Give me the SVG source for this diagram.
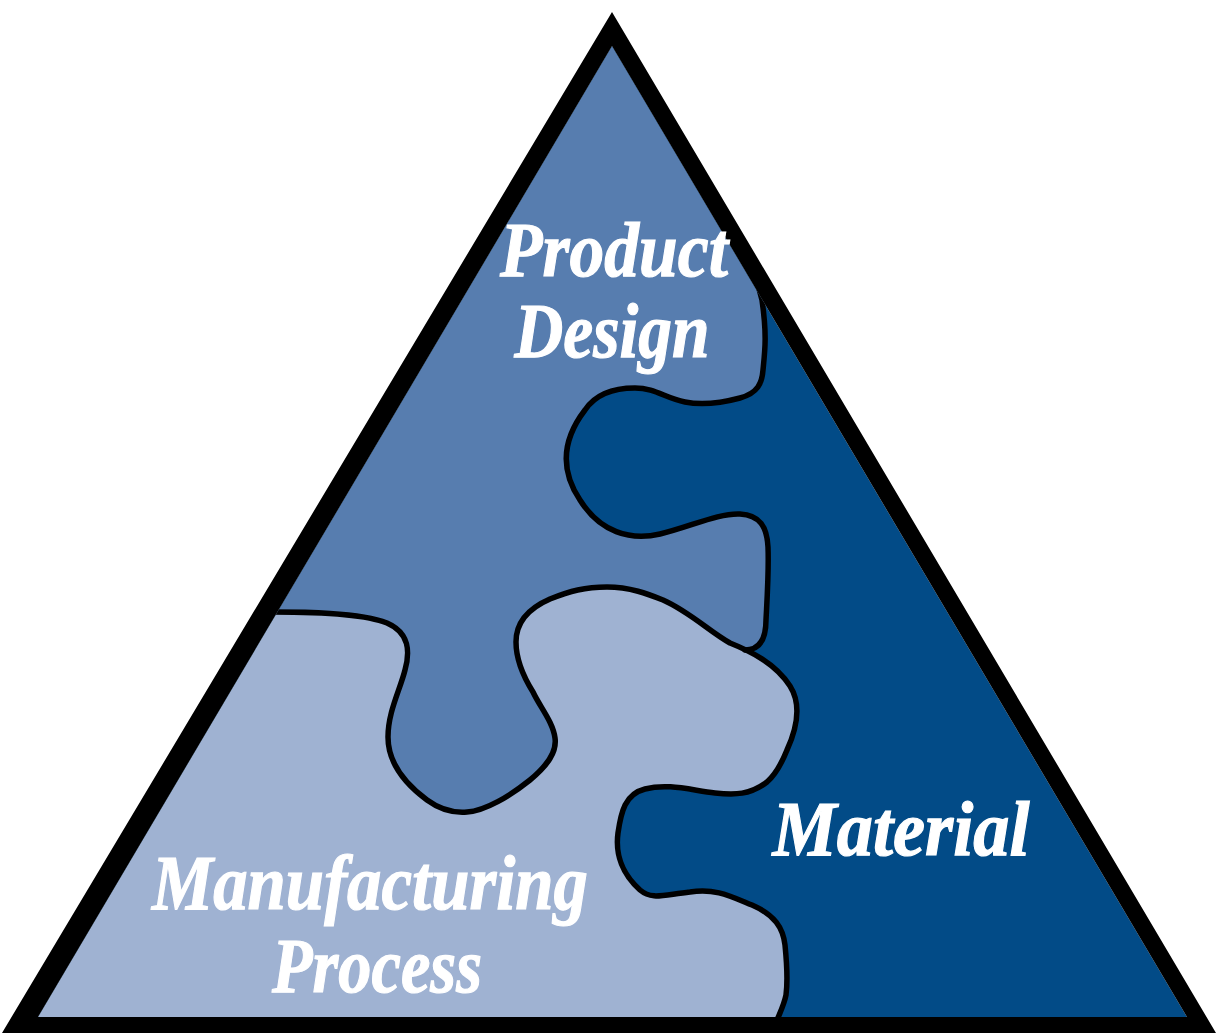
<svg xmlns="http://www.w3.org/2000/svg" width="1217" height="1036" viewBox="0 0 1217 1036">
<style>
.lbl{font-family:"Liberation Serif","Times New Roman",serif;font-weight:bold;font-style:italic;font-size:78px;fill:#fff;stroke:#fff;stroke-width:1.2;}
.edge{fill:none;stroke:#000;stroke-width:5.5;stroke-linejoin:round;stroke-linecap:round;}
</style>
<defs>
<clipPath id="tri"><polygon points="612,46 38,1017 1187,1017"/></clipPath>
</defs>
<rect width="1217" height="1036" fill="#fff"/>
<g id="material">
<polygon points="612,46 38,1017 1187,1017" fill="#024B87"/>
</g>
<g clip-path="url(#tri)">
<g id="product-design">
<path fill="#577DAF" d="M240,612 L273,612 C300,612 360,612 387,623 C410,633 410,652 405,670 C400,690 388,712 388,737 C388,760 400,780 427,800 C442,811 455,813 467,812 C485,811 510,796 530,780 C548,765 557,752 555,738 C553,722 540,707 533,692 C523,676 516,660 516,642 C516,624 527,609 550,599 C570,591 585,587 607,587 C630,587 648,594 663,600 C690,612 710,632 730,643 L745,650 C755,650 766,645 766,620 C767,600 769,570 768,547 C767,527 760,515 740,514 C718,513 690,527 660,534 C630,541 600,532 580,500 C560,470 562,440 585,410 C595,395 612,388 635,388 C655,388 665,398 685,402 C705,406 725,402 740,398 C758,393 762,383 763,370 C765,350 767,335 762,300 L758,280 L800,230 L612,-10 L200,600 Z"/>
</g>
<g id="manufacturing-process">
<path fill="#9FB2D2" d="M240,612 L273,612 C300,612 360,612 387,623 C410,633 410,652 405,670 C400,690 388,712 388,737 C388,760 400,780 427,800 C442,811 455,813 467,812 C485,811 510,796 530,780 C548,765 557,752 555,738 C553,722 540,707 533,692 C523,676 516,660 516,642 C516,624 527,609 550,599 C570,591 585,587 607,587 C630,587 648,594 663,600 C690,612 710,632 730,643 C750,651 775,663 790,686 C802,705 797,728 787,750 C781,765 775,775 767,782 C750,795 735,795 715,793 C690,790 668,783 645,789 C625,794 621,812 618,833 C615,855 623,875 640,890 C652,900 662,895 690,892 C715,888 730,896 752,905 C775,915 783,928 785,945 C787,965 788,980 786,995 C784,1005 781,1010 777,1020 L777,1040 L0,1040 L0,612 Z"/>
</g>
<g id="connectors">
<path class="edge" d="M262,612 L273,612 C300,612 360,612 387,623 C410,633 410,652 405,670 C400,690 388,712 388,737 C388,760 400,780 427,800 C442,811 455,813 467,812 C485,811 510,796 530,780 C548,765 557,752 555,738 C553,722 540,707 533,692 C523,676 516,660 516,642 C516,624 527,609 550,599 C570,591 585,587 607,587 C630,587 648,594 663,600 C690,612 710,632 730,643 C750,651 775,663 790,686 C802,705 797,728 787,750 C781,765 775,775 767,782 C750,795 735,795 715,793 C690,790 668,783 645,789 C625,794 621,812 618,833 C615,855 623,875 640,890 C652,900 662,895 690,892 C715,888 730,896 752,905 C775,915 783,928 785,945 C787,965 788,980 786,995 C784,1005 781,1010 775,1025"/>
<path class="edge" d="M745,650 C755,650 766,645 766,620 C767,600 769,570 768,547 C767,527 760,515 740,514 C718,513 690,527 660,534 C630,541 600,532 580,500 C560,470 562,440 585,410 C595,395 612,388 635,388 C655,388 665,398 685,402 C705,406 725,402 740,398 C758,393 762,383 763,370 C765,350 767,335 762,300 L758,285"/>
</g>
</g>
<g id="frame">
<path fill="#000" fill-rule="evenodd" d="M612,12 L2,1033 L1216,1033 Z M612,46 L38,1017 L1187,1017 Z"/>
</g>
<g id="labels">
<text class="lbl" x="614" y="276" text-anchor="middle" textLength="228" lengthAdjust="spacingAndGlyphs">Product</text>
<text class="lbl" x="612" y="357" text-anchor="middle" textLength="195" lengthAdjust="spacingAndGlyphs">Design</text>
<text class="lbl" x="370" y="909" text-anchor="middle" textLength="436" lengthAdjust="spacingAndGlyphs">Manufacturing</text>
<text class="lbl" x="377" y="992" text-anchor="middle" textLength="210" lengthAdjust="spacingAndGlyphs">Process</text>
<text class="lbl" x="901" y="855" text-anchor="middle" textLength="257" lengthAdjust="spacingAndGlyphs">Material</text>
</g>
</svg>
